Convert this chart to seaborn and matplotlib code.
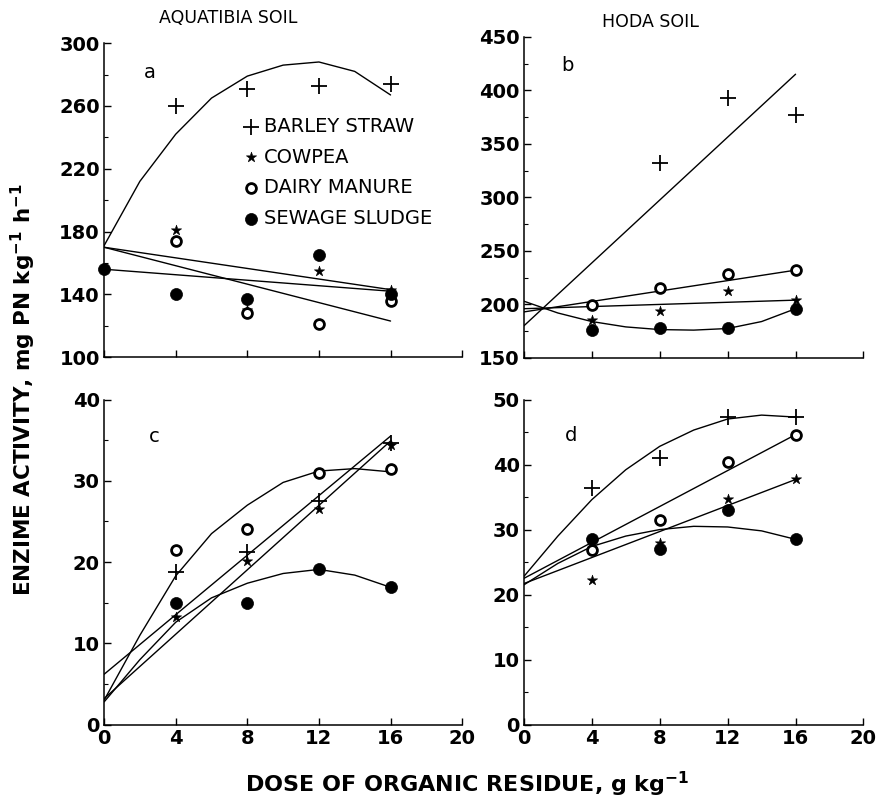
import numpy as np
import pandas as pd
import matplotlib
matplotlib.use("Agg")
import matplotlib.pyplot as plt
import seaborn as sns

# ── datos ────────────────────────────────────────────────────────────────────
series = ["BARLEY STRAW", "COWPEA", "DAIRY MANURE", "SEWAGE SLUDGE"]

# puntos medidos (dosis en g/kg)
a_dose = {"BARLEY STRAW": [4, 8, 12, 16], "COWPEA": [4, 8, 12, 16],
          "DAIRY MANURE": [4, 8, 12, 16], "SEWAGE SLUDGE": [0, 4, 8, 12, 16]}
a_barley = [260, 271, 273, 274]
a_cowpea = [181, 130, 155, 143]
a_dairy = [174, 128, 121, 136]
a_sewage = [156, 140, 137, 165, 140]

b_dose = {"BARLEY STRAW": [8, 12, 16], "COWPEA": [4, 8, 12, 16],
          "DAIRY MANURE": [4, 8, 12, 16], "SEWAGE SLUDGE": [4, 8, 12, 16]}
b_barley = [332, 393, 377]
b_cowpea = [185, 194, 213, 204]
b_dairy = [199, 215, 228, 232]
b_sewage = [176, 178, 178, 196]

cd_dose = [4, 8, 12, 16]
c_barley = [18.8, 21.3, 27.5, 34.6]
c_cowpea = [13.3, 20.1, 26.5, 34.4]
c_dairy = [21.5, 24.1, 31.0, 31.4]
c_sewage = [15.0, 15.0, 19.1, 16.9]

d_barley = [36.4, 41.0, 47.3, 47.3]
d_cowpea = [22.3, 28.0, 34.7, 37.7]
d_dairy = [26.9, 31.4, 40.4, 44.6]
d_sewage = [28.6, 27.0, 33.0, 28.5]

# curvas de ajuste (rectas: extremos, curvas: cada 2 g/kg)
recta_x = [0, 16]
curva_x = [0, 2, 4, 6, 8, 10, 12, 14, 16]

a_fit_barley = [171, 212, 242, 265, 279, 286, 288, 282, 267]
a_fit_cowpea = [170, 143]
a_fit_dairy = [170, 123]
a_fit_sewage = [156, 142]

b_fit_barley = [180, 415]
b_fit_cowpea = [196, 204]
b_fit_dairy = [193, 232]
b_fit_sewage = [203, 192, 184, 179, 176.5, 176, 177.5, 184, 196]

c_fit_barley = [6.2, 35.5]
c_fit_cowpea = [3.2, 34.9]
c_fit_dairy = [3.0, 11.0, 18.3, 23.5, 27.0, 29.8, 31.2, 31.5, 31.1]
c_fit_sewage = [2.8, 8.0, 12.6, 15.6, 17.4, 18.6, 19.1, 18.4, 16.9]

d_fit_barley = [22.8, 29.0, 34.6, 39.2, 42.8, 45.3, 47.0, 47.6, 47.3]
d_fit_cowpea = [21.7, 37.7]
d_fit_dairy = [22.5, 44.6]
d_fit_sewage = [21.5, 24.8, 27.4, 29.0, 30.0, 30.5, 30.4, 29.8, 28.5]

x_ticks = [0, 4, 8, 12, 16, 20]

# ── estilo ───────────────────────────────────────────────────────────────────
sns.set_style("ticks")
plt.rcParams["font.family"] = ["DejaVu Sans"]
plt.rcParams["mathtext.default"] = "regular"
plt.rcParams["text.color"] = "black"
plt.rcParams["xtick.color"] = "black"
plt.rcParams["ytick.color"] = "black"

estilos = {
    "BARLEY STRAW": dict(marker="+", s=120, linewidths=1.3, color="black"),
    "COWPEA": dict(marker="*", s=60, linewidths=0.4, color="black", edgecolor="black"),
    "DAIRY MANURE": dict(marker="o", s=50, linewidths=2.0, facecolor="white", edgecolor="black"),
    "SEWAGE SLUDGE": dict(marker="o", s=75, linewidths=0.5, color="black", edgecolor="black"),
}

fig = plt.figure(figsize=(8.82, 7.99), dpi=100)
ax_a = fig.add_axes([0.118, 0.553, 0.406, 0.393])
ax_b = fig.add_axes([0.594, 0.552, 0.385, 0.402])
ax_c = fig.add_axes([0.118, 0.093, 0.406, 0.407])
ax_d = fig.add_axes([0.594, 0.093, 0.385, 0.407])

paneles = [
    (ax_a, "a", a_dose, [a_barley, a_cowpea, a_dairy, a_sewage],
     [(curva_x, a_fit_barley), (recta_x, a_fit_cowpea), (recta_x, a_fit_dairy), (recta_x, a_fit_sewage)],
     (100, 300), 40, 2.2, 281),
    (ax_b, "b", b_dose, [b_barley, b_cowpea, b_dairy, b_sewage],
     [(recta_x, b_fit_barley), (recta_x, b_fit_cowpea), (recta_x, b_fit_dairy), (curva_x, b_fit_sewage)],
     (150, 450), 50, 2.2, 423),
    (ax_c, "c", {s: cd_dose for s in series}, [c_barley, c_cowpea, c_dairy, c_sewage],
     [(recta_x, c_fit_barley), (recta_x, c_fit_cowpea), (curva_x, c_fit_dairy), (curva_x, c_fit_sewage)],
     (0, 40), 10, 2.5, 35.5),
    (ax_d, "d", {s: cd_dose for s in series}, [d_barley, d_cowpea, d_dairy, d_sewage],
     [(curva_x, d_fit_barley), (recta_x, d_fit_cowpea), (recta_x, d_fit_dairy), (curva_x, d_fit_sewage)],
     (0, 50), 10, 2.4, 44.4),
]

for ax, letra, dosis, valores, ajustes, ylim, paso, lx, ly in paneles:
    # curvas de ajuste
    for fx, fy in ajustes:
        sns.lineplot(x=fx, y=fy, ax=ax, color="black", linewidth=1.0,
                     estimator=None, sort=False)
    # puntos medidos
    for nombre, vals in zip(series, valores):
        sns.scatterplot(x=dosis[nombre], y=vals, ax=ax, label=nombre,
                        zorder=3, legend=False, clip_on=False, **estilos[nombre])

    ax.set_xlim(0, 20)
    ax.set_ylim(*ylim)
    ax.set_xticks(x_ticks)
    ax.set_yticks(np.arange(ylim[0], ylim[1] + 1, paso))
    ax.set_yticks(np.arange(ylim[0], ylim[1] + 1, paso / 2), minor=True)
    ax.tick_params(direction="in", length=5, width=1, labelsize=14, pad=3)
    ax.tick_params(which="minor", direction="in", length=3, width=0.8)
    for t in ax.get_xticklabels() + ax.get_yticklabels():
        t.set_fontweight("bold")
    for lado in ["left", "bottom"]:
        ax.spines[lado].set_linewidth(1.1)
        ax.spines[lado].set_color("black")
    sns.despine(ax=ax)
    ax.set_xlabel("")
    ax.set_ylabel("")
    ax.text(lx, ly, letra, fontsize=14, ha="left", va="center")

# la fila de arriba no lleva números en el eje x
ax_a.tick_params(axis="x", labelbottom=False)
ax_b.tick_params(axis="x", labelbottom=False)

# leyenda del panel a
leg = ax_a.legend(loc="upper left", bbox_to_anchor=(0.355, 0.79), frameon=False,
                  fontsize=14, handletextpad=0.1, labelspacing=0.6,
                  borderaxespad=0, handlelength=1.2, scatterpoints=1)

# títulos de columna
fig.text(0.259, 0.978, "AQUATIBIA SOIL", ha="center", va="center", fontsize=12.5)
fig.text(0.737, 0.972, "HODA SOIL", ha="center", va="center", fontsize=12.5)

fig.text(0.026, 0.512, "ENZIME ACTIVITY, mg PN kg$^{-1}$ h$^{-1}$", rotation=90,
         ha="center", va="center", fontsize=15.5, fontweight="bold")
fig.text(0.53, 0.018, "DOSE OF ORGANIC RESIDUE, g kg$^{-1}$", ha="center",
         va="center", fontsize=16, fontweight="bold")

fig.savefig("out.png", dpi=100)
